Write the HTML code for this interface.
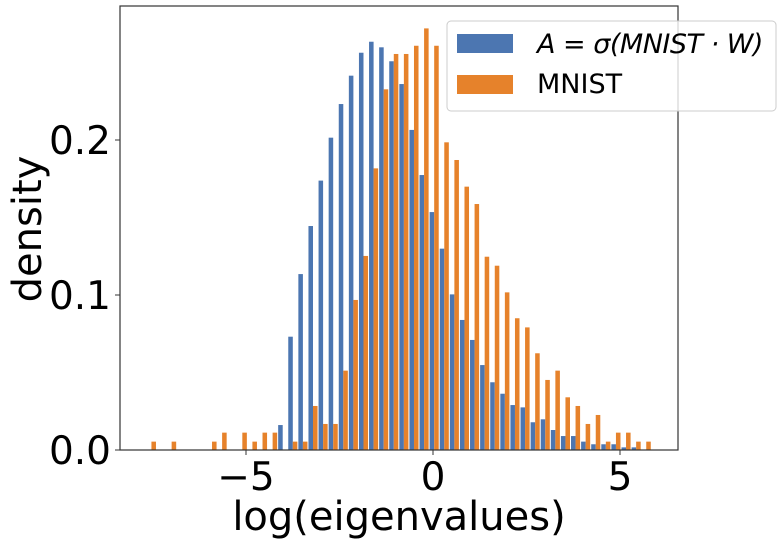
<!DOCTYPE html>
<html><head><meta charset="utf-8"><style>
body{margin:0;background:#fff}
svg{display:block;font-family:"DejaVu Sans","Liberation Sans",sans-serif}
</style></head><body>
<svg id="chart" width="783" height="546" viewBox="0 0 783 546" xmlns="http://www.w3.org/2000/svg">
<g id="bars"></g>
<rect x="120" y="6" width="558" height="444" fill="none" stroke="#333" stroke-width="1.2"/>
<g id="ticks"></g>
<text x="399" y="530" font-size="40" text-anchor="middle">log(eigenvalues)</text>
<text transform="translate(41,229) rotate(-90)" font-size="40" text-anchor="middle">density</text>
<g>
<rect x="447" y="21" width="329" height="90" rx="4" fill="#fff" fill-opacity="0.8" stroke="#ccc"/>
<rect x="457" y="34" width="56" height="19" fill="#4c76b1"/>
<text x="537" y="53" font-size="27" font-style="italic" letter-spacing="-0.5">A = σ(MNIST · W)</text>
<rect x="457" y="75" width="56" height="19" fill="#e6822b"/>
<text x="537" y="93" font-size="27">MNIST</text>
</g>
</svg>
<script>
const binStart = -7.65;
const binWidth = 0.27;
const blueValues = [0,0,0,0,0,0,0,0,0,0,0,0,0,0.0161,0.0731,0.1135,0.1445,0.1738,0.2015,0.2232,0.2415,0.2563,0.2634,0.2598,0.2508,0.2361,0.2065,0.1774,0.1535,0.1299,0.1004,0.0839,0.071,0.0548,0.0437,0.0363,0.029,0.0275,0.0179,0.0198,0.0129,0.009,0.009,0.0054,0.0037,0.0037,0.0037,0.0017,0.0017,0];
const orangeValues = [0.0054,0,0.0054,0,0,0,0.0054,0.0112,0,0.0112,0.0054,0.0112,0.0112,0,0.0054,0.0054,0.0284,0.0168,0.0168,0.0512,0.0968,0.1252,0.1817,0.2327,0.2555,0.2555,0.2608,0.272,0.2608,0.1985,0.1871,0.1699,0.1587,0.1247,0.1189,0.1017,0.085,0.0791,0.0624,0.0452,0.0512,0.034,0.0284,0.0168,0.0226,0.0054,0.0112,0.0112,0.0054,0.0054];
const xTicks = [-5,0,5];
const xTickLabels = ["−5","0","5"];
const yTicks = [0,0.1,0.2];
const yTickLabels = ["0.0","0.1","0.2"];
const X = v => 433 + v*37.4;
const Y = v => 450 - v*1550;
const NS = "http://www.w3.org/2000/svg";
const bars = document.getElementById('bars');
const bw = binWidth*37.4*0.45;
function bar(x, v, color, name){
  if(v<=0) return;
  const r = document.createElementNS(NS,'rect');
  
  
  r.setAttribute('x', x); r.setAttribute('width', bw);
  r.setAttribute('y', Y(v)); r.setAttribute('height', Y(0)-Y(v));
  r.setAttribute('fill', color);
  bars.appendChild(r);
}
blueValues.forEach((v,i)=>{
  const s = X(binStart + i*binWidth);
  bar(s, v, '#4c76b1', 'bar-sigma-'+i);
  bar(s+bw, orangeValues[i], '#e6822b', 'bar-mnist-'+i);
});
const ticks = document.getElementById('ticks');
xTicks.forEach((t,i)=>{
  const l = document.createElementNS(NS,'line');
  
  
  l.setAttribute('x1',X(t)); l.setAttribute('x2',X(t)); l.setAttribute('y1',450); l.setAttribute('y2',455);
  l.setAttribute('stroke','#333'); ticks.appendChild(l);
  const tx = document.createElementNS(NS,'text');
  
  
  tx.setAttribute('x',X(t)); tx.setAttribute('y',490); tx.setAttribute('font-size','39'); tx.setAttribute('text-anchor','middle');
  tx.textContent = xTickLabels[i]; ticks.appendChild(tx);
});
yTicks.forEach((t,i)=>{
  const l = document.createElementNS(NS,'line');
  
  
  l.setAttribute('x1',115); l.setAttribute('x2',120); l.setAttribute('y1',Y(t)); l.setAttribute('y2',Y(t));
  l.setAttribute('stroke','#333'); ticks.appendChild(l);
  const tx = document.createElementNS(NS,'text');
  
  
  tx.setAttribute('x',111); tx.setAttribute('y',Y(t)+14); tx.setAttribute('font-size','39'); tx.setAttribute('text-anchor','end');
  tx.textContent = yTickLabels[i]; ticks.appendChild(tx);
});
</script>
</body></html>
